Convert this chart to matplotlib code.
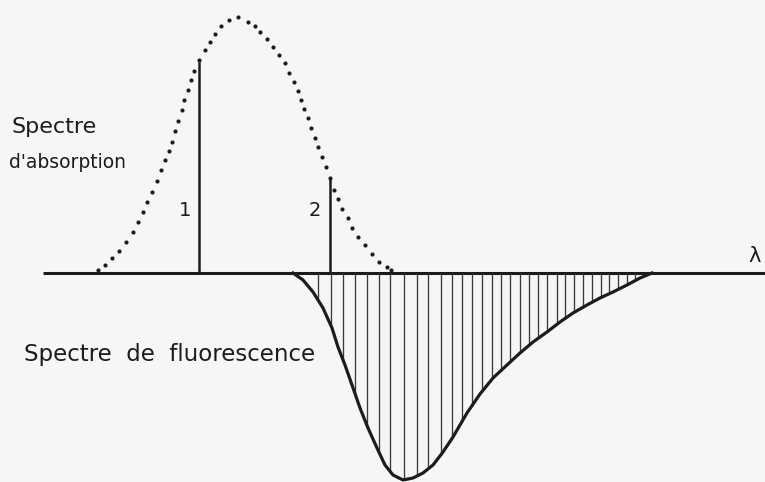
import matplotlib

matplotlib.use("Agg")
import matplotlib.pyplot as plt
import numpy as np

# Spectre d'absorption : un point par pointillé (unités du dessin)
abs_x = [98, 105, 112, 119, 126, 133, 138, 143, 147, 152, 157, 161, 165, 169, 172,
         175, 178, 182, 184, 188, 191, 194, 199, 205, 210, 215, 221, 229, 238, 248,
         255, 260, 267, 273, 279, 285, 289, 294, 298, 301, 304, 308, 311, 315, 318,
         322, 326, 330, 334, 338, 342, 348, 352, 358, 365, 372, 379, 387, 391]
abs_y = [3, 8, 15, 22, 31, 41, 51, 61, 71, 81, 92, 103, 113, 122, 131,
         142, 152, 163, 173, 183, 193, 202, 213, 223, 231, 239, 247, 253, 256, 251,
         247, 241, 234, 226, 218, 210, 200, 191, 182, 173, 164, 155, 145, 135, 126,
         116, 106, 95, 83, 74, 64, 55, 45, 36, 28, 19, 11, 6, 3]

# Spectre de fluorescence (compté vers le bas)
fl_x = [293, 303, 313, 323, 332, 338, 345, 352, 360, 368, 377, 385, 393, 403, 413,
        423, 433, 443, 453, 467, 480, 493, 507, 520, 533, 547, 560, 573, 587, 600,
        613, 627, 640, 652]
fl_y = [0, -7, -19, -35, -55, -74, -92, -112, -135, -155, -175, -192, -202, -207, -205,
        -200, -192, -179, -164, -140, -121, -105, -92, -80, -69, -59, -49, -40, -32, -25,
        -19, -12, -5, 0]

# hachures
hatch_x = [318, 331, 343, 355, 367, 379, 390, 404, 417, 428, 441, 452, 462, 472,
           482, 492, 501, 510, 520, 529, 538, 547, 557, 565, 574, 583, 592, 601,
           609, 618, 627, 635]

# raies d'excitation 1 et 2
lines_x = [199, 330]
lines_h = [210, 95]
lines_lab = ["1", "2"]
lab_x = [185, 315]

INK = "#1c1c1c"
BG = "#f6f6f6"

fig = plt.figure(figsize=(7.65, 4.82), dpi=100)
fig.patch.set_facecolor(BG)
ax = fig.add_axes([0, 0, 1, 1])
ax.set_facecolor(BG)
ax.set_xlim(0, 765)
ax.set_ylim(-209, 273)
ax.axis("off")

# axe des longueurs d'onde
ax.plot([43, 765], [0, 0], color=INK, lw=2.2, solid_capstyle="butt")
ax.text(748, 17, "λ", fontsize=15, color=INK, ha="left", va="center")

# absorption en pointillés
ax.plot(abs_x, abs_y, "o", color=INK, ms=3.0, mew=0)

# hachures sous la fluorescence
hatch_y = np.interp(hatch_x, fl_x, fl_y)
ax.vlines(hatch_x, hatch_y, 0, color="#3a3a3a", lw=0.95)
ax.plot(fl_x, fl_y, color=INK, lw=2.3, solid_joinstyle="round")

for x, h, lab, lx in zip(lines_x, lines_h, lines_lab, lab_x):
    ax.plot([x, x], [0, h], color=INK, lw=1.8)
    ax.text(lx, 63, lab, fontsize=14, color=INK, ha="center", va="center")

ax.text(12, 146, "Spectre", fontsize=16, color=INK, ha="left", va="center")
ax.text(9, 111, "d'absorption", fontsize=13.5, color=INK, ha="left", va="center")
ax.text(24, -82, "Spectre  de  fluorescence", fontsize=16.5, color=INK,
        ha="left", va="center")

fig.savefig("out.png", dpi=100, facecolor=fig.get_facecolor())
